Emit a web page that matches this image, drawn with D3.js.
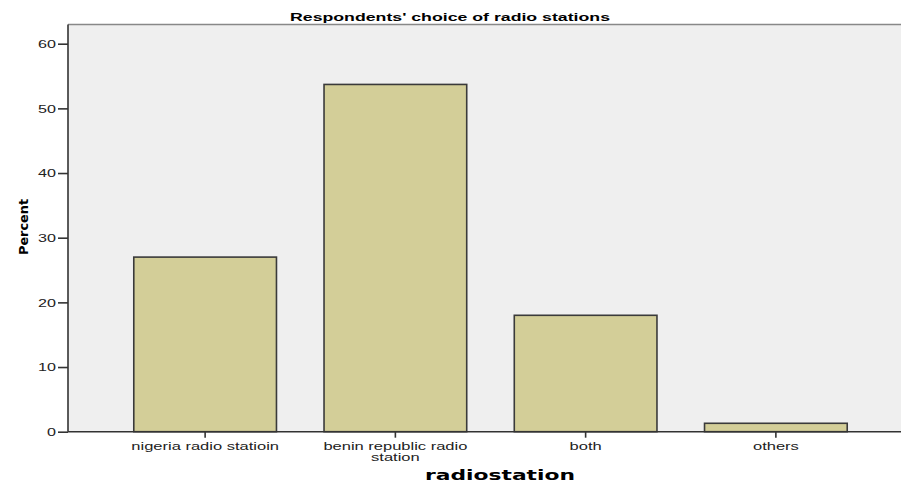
<!DOCTYPE html>
<html>
<head>
<meta charset="utf-8">
<script src="https://cdn.jsdelivr.net/npm/d3@7"></script>
<style>
  body { margin: 0; background: #fff; }
  svg { display: block; }
</style>
</head>
<body>
<div id="main"></div>
<script>
// chart data
const categories = ["nigeria radio statioin", "benin republic radio station", "both", "others"];
const percents = [27.0, 53.7, 18.0, 1.3];
const yTicks = [0, 10, 20, 30, 40, 50, 60];

const W = 901, H = 487;
const plot = { left: 68, right: 901, top: 24.5, bottom: 431.7 };
const tickFont = "Liberation Sans, Arial, sans-serif";

// the original's text is drawn wider than the font's natural width
function stretch(sel, f) {
    sel.each(function() {
        let w = this.getComputedTextLength();
        d3.select(this)
            .attr("textLength", w * f)
            .attr("lengthAdjust", "spacingAndGlyphs");
    });
}

let svg = d3.select("#main").append("svg")
    .attr("width", W)
    .attr("height", H);

let x = d3.scaleBand()
    .domain(categories)
    .range([110, 871])
    .paddingInner(0.25)
    .paddingOuter(0.125);

let y = d3.scaleLinear()
    .domain([0, 60])
    .range([plot.bottom, 43.7]);

// plot background
svg.append("rect")
    .attr("x", plot.left)
    .attr("y", plot.top)
    .attr("width", plot.right - plot.left)
    .attr("height", plot.bottom - plot.top)
    .attr("fill", "#efefef");

// top border
svg.append("line")
    .attr("x1", plot.left).attr("x2", plot.right)
    .attr("y1", plot.top).attr("y2", plot.top)
    .attr("stroke", "#888").attr("stroke-width", 1.5);

// bars
svg.append("g")
    .selectAll("rect")
    .data(percents)
    .enter().append("rect")
    .attr("x", (d, i) => x(categories[i]))
    .attr("y", d => y(d))
    .attr("width", x.bandwidth())
    .attr("height", d => y(0) - y(d))
    .attr("fill", "#d3ce98")
    .attr("stroke", "#3a3a3a")
    .attr("stroke-width", 1.6);

// y axis
let yAxis = svg.append("g")
    .attr("transform", "translate(" + plot.left + ",0)")
    .call(d3.axisLeft(y).tickValues(yTicks).tickSize(10).tickPadding(2).tickSizeOuter(0));
yAxis.select(".domain").attr("d", "M0," + plot.top + "V" + plot.bottom)
    .attr("stroke", "#333").attr("stroke-width", 1.6);
yAxis.selectAll(".tick line").attr("stroke", "#333").attr("stroke-width", 1.6);
yAxis.selectAll(".tick text")
    .attr("font-family", tickFont)
    .attr("font-size", 11.5)
    .attr("fill", "#222");
stretch(yAxis.selectAll(".tick text"), 1.4);

// x axis
let xAxis = svg.append("g")
    .attr("transform", "translate(0," + plot.bottom + ")")
    .call(d3.axisBottom(x).tickSize(6).tickSizeOuter(0).tickFormat(""));
xAxis.select(".domain").attr("d", "M" + plot.left + ",0H" + plot.right)
    .attr("stroke", "#333").attr("stroke-width", 1.6);
xAxis.selectAll(".tick line").attr("stroke", "#333").attr("stroke-width", 1.6);

// x tick labels (wrapped like the original)
const xLabelLines = {
    "benin republic radio station": ["benin republic radio", "station"]
};
xAxis.selectAll(".tick").each(function(d) {
    let lines = xLabelLines[d] || [d];
    let g = d3.select(this);
    lines.forEach((ln, k) => {
        g.append("text")
            .attr("class", "xlab")
            .attr("x", 0)
            .attr("y", 18.5 + k * 10.5)
            .attr("text-anchor", "middle")
            .attr("font-family", tickFont)
            .attr("font-size", 11)
            .attr("fill", "#222")
            .text(ln);
    });
});
stretch(xAxis.selectAll(".xlab"), 1.5);

// title
svg.append("text")
    .attr("x", 450)
    .attr("y", 21)
    .attr("text-anchor", "middle")
    .attr("font-family", "Liberation Sans, Arial, sans-serif")
    .attr("font-weight", "bold")
    .attr("font-size", 11.5)
    .attr("textLength", 320)
    .attr("lengthAdjust", "spacingAndGlyphs")
    .attr("fill", "#000")
    .text("Respondents' choice of radio stations");

// axis titles
svg.append("text")
    .attr("transform", "translate(28,227) rotate(-90)")
    .attr("text-anchor", "middle")
    .attr("font-family", "DejaVu Sans Condensed, DejaVu Sans, sans-serif")
    .attr("font-weight", "bold")
    .attr("font-size", 13)
    .attr("textLength", 56)
    .attr("lengthAdjust", "spacingAndGlyphs")
    .attr("fill", "#000")
    .text("Percent");

svg.append("text")
    .attr("x", 500)
    .attr("y", 480)
    .attr("text-anchor", "middle")
    .attr("font-family", "DejaVu Sans, Verdana, sans-serif")
    .attr("font-weight", "bold")
    .attr("font-size", 14)
    .attr("textLength", 150)
    .attr("lengthAdjust", "spacingAndGlyphs")
    .attr("fill", "#000")
    .text("radiostation");
</script>
</body>
</html>
